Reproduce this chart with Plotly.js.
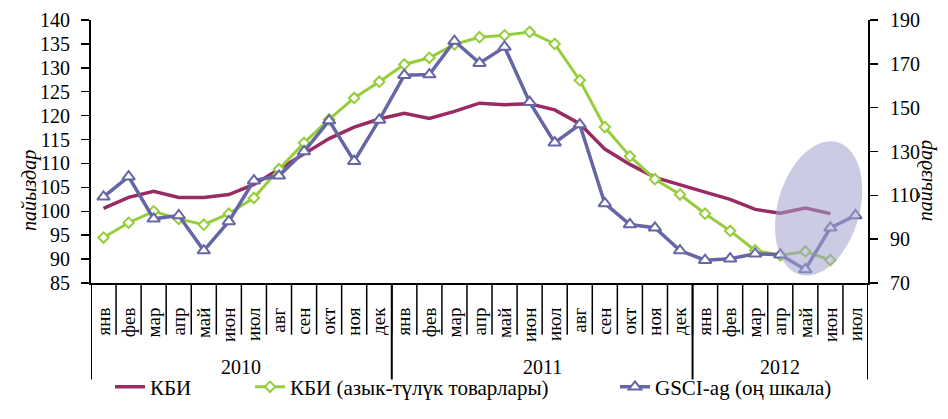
<!DOCTYPE html>
<html>
<head>
<meta charset="utf-8">
<script src="https://cdn.plot.ly/plotly-3.0.1.min.js"></script>
</head>
<body style="margin:0">
<div id="chart"></div>
<script>
// ---- data ----
const months = ['янв','фев','мар','апр','май','июн','июл','авг','сен','окт','ноя','дек',
                'янв','фев','мар','апр','май','июн','июл','авг','сен','окт','ноя','дек',
                'янв','фев','мар','апр','май','июн','июл'];
const years = ['2010','2011','2012'];
const yearMonthCounts = [12, 12, 7];
const kbi = [100.6,102.9,104.2,102.9,102.9,103.5,105.6,108.8,112.2,115.2,117.6,119.3,
             120.5,119.4,120.9,122.6,122.3,122.5,121.2,118.3,113.0,109.8,107.1,105.5,
             104.0,102.5,100.4,99.6,100.7,99.5,null];
const kbiFood = [94.5,97.6,100.0,98.4,97.2,99.5,102.8,108.8,114.3,119.2,123.7,127.1,
                 130.7,132.1,134.9,136.4,136.8,137.5,135.0,127.4,117.6,111.5,106.7,103.5,
                 99.5,95.9,91.8,90.8,91.6,89.8,null];
const gsciAg = [109.3,118.5,99.3,100.8,84.8,98.1,116.7,118.9,130.0,144.1,125.6,144.4,
                164.8,165.1,180.4,170.3,177.7,152.5,134.0,142.3,106.3,96.7,95.2,84.8,
                80.4,81.1,83.3,82.9,76.2,95.2,100.8];
const seriesNames = ['КБИ', 'КБИ (азык-түлүк товарлары)', 'GSCI-ag (оң шкала)'];

// ---- layout constants ----
var cw = 948, ch = 419;
var mg = {l: 91, r: 80, t: 20, b: 129};
var plotW = cw - mg.l - mg.r, plotH = ch - mg.t - mg.b;
var nCat = months.length;
var idx = months.map(function (_, i) { return i; });
var yr = [85, 140];
var pxPerCat = plotW / nCat, pxPerUnit = plotH / (yr[1] - yr[0]);
function px2x(p) { return (p - mg.l) / plotW; }
function py2y(p) { return (mg.t + plotH - p) / plotH; }

var cMaroon = 'rgb(152,44,98)';
var cGreen = 'rgb(150,205,60)';
var cBlue = 'rgb(102,102,164)';
var ff = 'Liberation Serif';

var traces = [
  {x: idx, y: kbi, type: 'scatter', mode: 'lines', name: seriesNames[0],
   line: {color: cMaroon, width: 3.5}, legend: 'legend', cliponaxis: false},
  {x: idx, y: kbiFood, type: 'scatter', mode: 'lines+markers', name: seriesNames[1],
   line: {color: cGreen, width: 3}, legend: 'legend2', cliponaxis: false,
   marker: {symbol: 'diamond', size: 8, color: 'white', line: {color: cGreen, width: 2}}},
  {x: idx, y: gsciAg, type: 'scatter', mode: 'lines+markers', name: seriesNames[2],
   yaxis: 'y2', line: {color: cBlue, width: 3.5}, legend: 'legend3', cliponaxis: false,
   marker: {symbol: 'triangle-up', size: 11, color: 'white', line: {color: cBlue, width: 2}}}
];

var shapes = [];
var annotations = [];
for (var i = 0; i <= nCat; i++) {
  shapes.push({type: 'line', xref: 'x', yref: 'paper', x0: i - 0.5, x1: i - 0.5, y0: 0, y1: py2y(343),
               line: {color: 'black', width: 1.5}});
}
var start = 0;
shapes.push({type: 'line', xref: 'x', yref: 'paper', x0: -0.5, x1: -0.5, y0: 0, y1: py2y(389),
             line: {color: 'black', width: 2}});
years.forEach(function (yName, k) {
  var end = start + yearMonthCounts[k];
  shapes.push({type: 'line', xref: 'x', yref: 'paper', x0: end - 0.5, x1: end - 0.5,
               y0: 0, y1: py2y(389), line: {color: 'black', width: 2}});
  annotations.push({xref: 'x', yref: 'paper', x: (start + end - 1) / 2, y: py2y(376),
                    text: yName, showarrow: false, font: {size: 20, family: ff, color: 'black'},
                    xanchor: 'center', yanchor: 'middle'});
  start = end;
});

var ell = {cx: 28.53, cy: 100.6, a: 70.5, b: 41, theta: 15 * Math.PI / 180};
var path = '';
for (var k = 0; k <= 72; k++) {
  var t = 2 * Math.PI * k / 72;
  var ux = Math.sin(ell.theta), uy = -Math.cos(ell.theta);
  var vx = Math.cos(ell.theta), vy = Math.sin(ell.theta);
  var dxp = ell.a * Math.cos(t) * ux + ell.b * Math.sin(t) * vx;
  var dyp = ell.a * Math.cos(t) * uy + ell.b * Math.sin(t) * vy;
  var X = ell.cx + dxp / pxPerCat, Y = ell.cy - dyp / pxPerUnit;
  path += (k === 0 ? 'M' : 'L') + X.toFixed(3) + ',' + Y.toFixed(3) + ' ';
}
path += 'Z';
shapes.push({type: 'path', xref: 'x', yref: 'y', path: path, layer: 'above',
             fillcolor: 'rgb(160,162,205)', opacity: 0.55, line: {width: 0}});

annotations.push({xref: 'paper', yref: 'paper', x: px2x(16), y: py2y(195), text: '<i>пайыздар</i>',
                  textangle: -90, showarrow: false, font: {size: 20, family: ff, color: 'black'}});
annotations.push({xref: 'paper', yref: 'paper', x: px2x(939), y: py2y(185), text: '<i>пайыздар</i>',
                  textangle: -90, showarrow: false, font: {size: 20, family: ff, color: 'black'}});

function legendAt(px) {
  return {orientation: 'h', yanchor: 'bottom', y: py2y(418), xanchor: 'left', x: px2x(px),
          bgcolor: 'rgba(0,0,0,0)', borderwidth: 0, font: {size: 21, family: ff, color: 'black'}};
}

var layout = {
  width: cw, height: ch,
  margin: mg,
  paper_bgcolor: 'white', plot_bgcolor: 'white',
  showlegend: true,
  xaxis: {range: [-0.5, nCat - 0.5], tickmode: 'array', tickvals: idx, ticktext: months,
          ticks: '', showline: true, linewidth: 2, linecolor: 'black', showgrid: false, zeroline: false,
          tickangle: -90, ticklabelstandoff: 15, automargin: false,
          tickfont: {size: 19, family: ff, color: 'black'}},
  yaxis: {range: yr, tick0: 85, dtick: 5, ticks: 'outside', ticklen: 8, tickwidth: 1.5,
          tickcolor: 'black', showline: true, linewidth: 2, linecolor: 'black',
          showgrid: false, zeroline: false, ticklabelstandoff: 7, automargin: false,
          tickfont: {size: 20, family: ff, color: 'black'}},
  yaxis2: {range: [70, 190], tick0: 70, dtick: 20, overlaying: 'y', side: 'right',
           ticks: 'outside', ticklen: 8, tickwidth: 1.5, tickcolor: 'black',
           showline: true, linewidth: 2, linecolor: 'black', showgrid: false, zeroline: false,
           ticklabelstandoff: 8, automargin: false, tickfont: {size: 20, family: ff, color: 'black'}},
  legend: legendAt(110),
  legend2: legendAt(250),
  legend3: legendAt(615),
  shapes: shapes,
  annotations: annotations
};

Plotly.newPlot('chart', traces, layout, {staticPlot: true});
</script>
</body>
</html>
